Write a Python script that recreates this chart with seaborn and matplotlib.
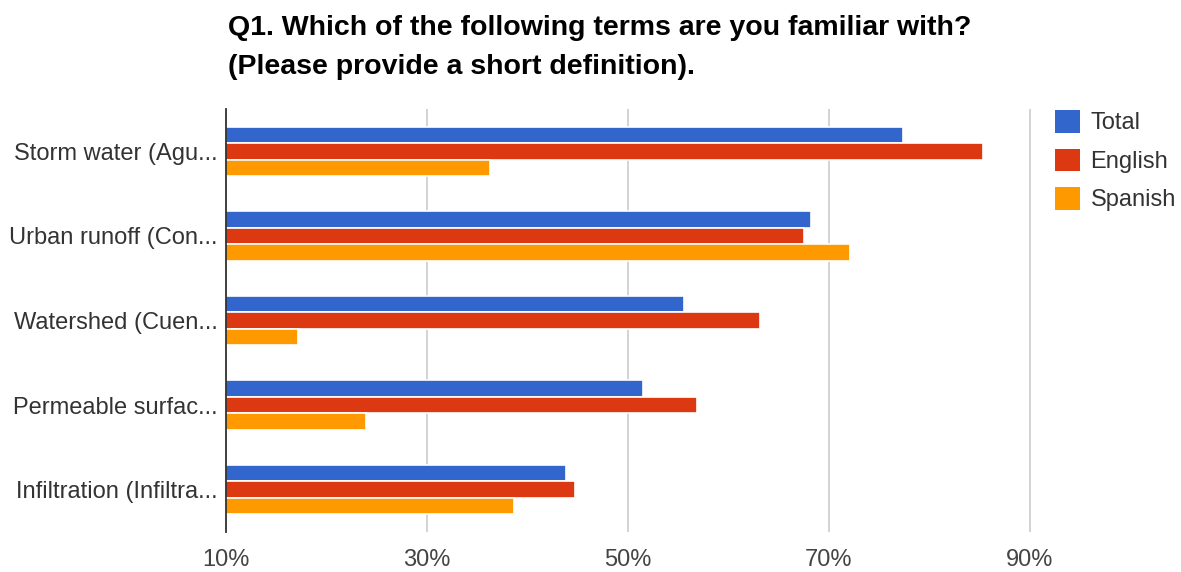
import matplotlib
matplotlib.use("Agg")
import matplotlib.pyplot as plt
import seaborn as sns
import pandas as pd
from matplotlib.patches import Patch
from matplotlib.ticker import FixedLocator, FuncFormatter

# Survey terms (labels truncated as shown on the axis)
terms = [
    "Storm water (Agu...",
    "Urban runoff (Con...",
    "Watershed (Cuen...",
    "Permeable surfac...",
    "Infiltration (Infiltra...",
]
groups = ["Total", "English", "Spanish"]

# Percent of respondents familiar with each term
total = [77.4, 68.2, 55.6, 51.5, 43.8]
english = [85.3, 67.5, 63.1, 56.9, 44.7]
spanish = [36.3, 72.1, 17.2, 23.9, 38.7]

x_ticks = [10, 30, 50, 70, 90]

colors = ["#3366CC", "#DC3912", "#FF9900"]

df = pd.DataFrame({
    "term": terms * 3,
    "group": [g for g in groups for _ in terms],
    "pct": total + english + spanish,
})

sns.set_theme(style="white")
plt.rcParams["font.family"] = ["Liberation Sans", "DejaVu Sans"]

W, H = 1181, 572
fig = plt.figure(figsize=(W / 100, H / 100), dpi=100)
ax = fig.add_axes([226 / W, 1 - 532 / H, (1031 - 226) / W, (532 - 109) / H])

sns.barplot(
    data=df, y="term", x="pct", hue="group", order=terms, hue_order=groups,
    palette=colors, orient="h", width=0.585, edgecolor="white", linewidth=1.2,
    saturation=1, ax=ax, legend=False, zorder=3,
)

ax.set_xlim(10, 90.1)
ax.set_ylim(len(terms) - 0.5, -0.5)
ax.xaxis.set_major_locator(FixedLocator(x_ticks))
ax.xaxis.set_major_formatter(FuncFormatter(lambda v, _: f"{v:.0f}%"))
ax.grid(axis="x", color="#cccccc", linewidth=1.2, zorder=0)
ax.grid(axis="y", visible=False)
ax.set_xlabel("")
ax.set_ylabel("")

for side in ["top", "right", "bottom"]:
    ax.spines[side].set_visible(False)
ax.spines["left"].set_color("#333333")
ax.spines["left"].set_linewidth(1.3)
ax.spines["left"].set_zorder(5)

ax.tick_params(axis="both", length=0, labelsize=17, labelcolor="#333333")
ax.tick_params(axis="x", pad=12.5, labelcolor="#444444")
ax.tick_params(axis="y", pad=6)

title_kw = dict(ha="left", va="baseline", fontsize=20.5, fontweight="bold", color="#000000")
fig.text(228 / W, 1 - 35 / H, "Q1. Which of the following terms are you familiar with?", **title_kw)
fig.text(228 / W, 1 - 74 / H, "(Please provide a short definition).", **title_kw)

handles = [Patch(facecolor=c, edgecolor="none") for c in colors]
fig.legend(handles, groups, loc="upper left", bbox_to_anchor=(1055 / W, 1 - 110 / H),
           frameon=False, fontsize=17, handlelength=1.05, handleheight=1.1,
           labelspacing=0.6, handletextpad=0.45, borderpad=0, borderaxespad=0,
           labelcolor="#333333")

fig.savefig("out.png", dpi=100)
